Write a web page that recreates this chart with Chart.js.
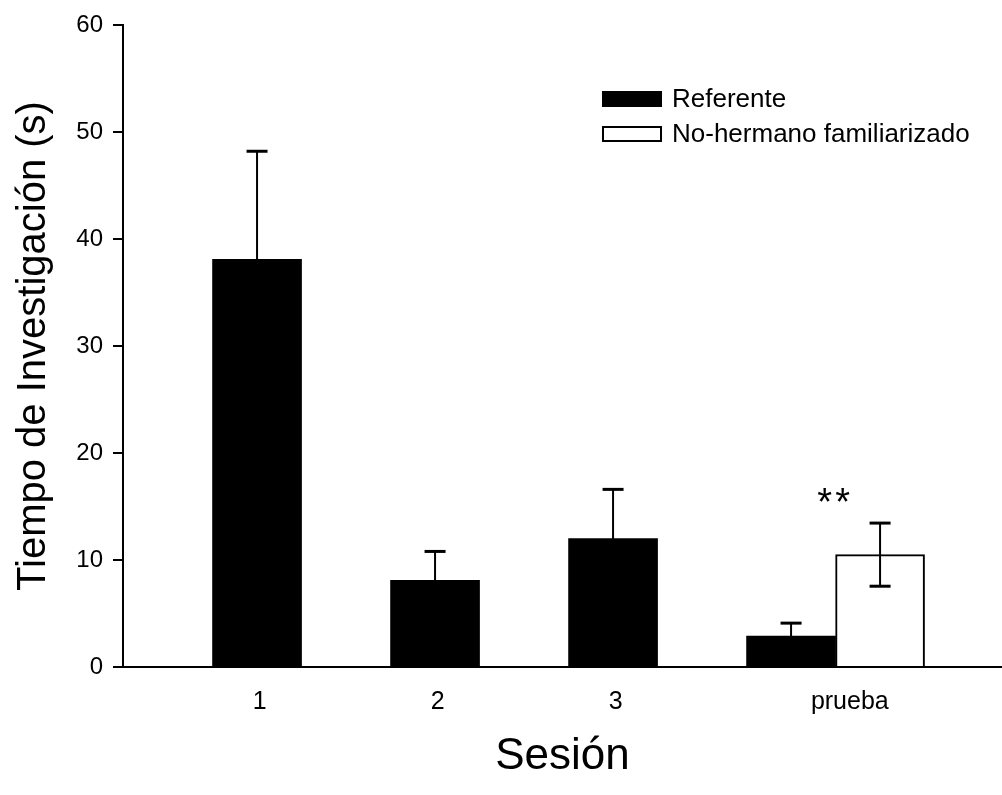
<!DOCTYPE html>
<html><head><meta charset="utf-8">
<script src="https://cdn.jsdelivr.net/npm/chart.js@4"></script>
<style>html,body{margin:0;padding:0;background:#fff}#wrap{width:1002px;height:795px}</style>
</head><body><div id="wrap"><canvas id="c" width="1002" height="795"></canvas></div>
<script>
// ---- data ----
const sessions = ['1', '2', '3', 'prueba'];
const seriesLabels = ['Referente', 'No-hermano familiarizado'];
const referente = [38.1, 8.1, 12.0, 2.9];
const referenteErr = [10.1, 2.7, 4.6, 1.2];
const noHermano = [null, null, null, 10.5];
const noHermanoErr = [null, null, null, 2.95];
const significance = ['', '', '', '**'];
const yTicks = [0, 10, 20, 30, 40, 50, 60];
const yTitle = 'Tiempo de Investigación (s)';
const xTitle = 'Sesión';

// ---- layout / style ----
const FONT = '"Liberation Sans", Arial, Helvetica, sans-serif';
const groupOffset = 0.5;           // second series sits half a slot to the right
const catPos = i => i + 1;          // numeric slot of each session
const groupCenter = i => noHermano[i] == null ? catPos(i) : catPos(i) + groupOffset / 2;
const labelPos = i => noHermano[i] == null ? catPos(i) + 0.015 : catPos(i) + groupOffset * 0.66;

function build(vals, errs, shift) {
  const out = [];
  vals.forEach((v, i) => { if (v != null) out.push({ x: catPos(i) + shift, y: v, err: errs[i] }); });
  return out;
}

const errorBars = {
  id: 'errorBars',
  afterDatasetsDraw(chart) {
    const { ctx } = chart;
    const ys = chart.scales.y, xs = chart.scales.x;
    const line = (a, b, c, d) => { ctx.beginPath(); ctx.moveTo(a, b); ctx.lineTo(c, d); ctx.stroke(); };
    chart.data.datasets.forEach((ds, di) => {
      const meta = chart.getDatasetMeta(di);
      meta.data.forEach((el, j) => {
        const p = ds.data[j];
        if (!p || p.err == null) return;
        const x = el.x;
        const yt = ys.getPixelForValue(p.y + p.err);
        const yb = ys.getPixelForValue(p.y - p.err);
        ctx.save();
        ctx.strokeStyle = '#000';
        ctx.lineWidth = 2;
        line(x, yt, x, yb);
        ctx.lineWidth = 3;
        line(x - 10.5, yt, x + 10.5, yt);
        line(x - 10.5, yb, x + 10.5, yb);
        ctx.restore();
      });
    });
    // significance markers above the group
    sessions.forEach((s, i) => {
      if (!significance[i]) return;
      const top = Math.max(referente[i] + (referenteErr[i] || 0), (noHermano[i] || 0) + (noHermanoErr[i] || 0));
      const x = xs.getPixelForValue(groupCenter(i)) - 2;
      const y = ys.getPixelForValue(top) - 30;
      const chars = significance[i].split('');
      const gap = 18;
      ctx.save();
      ctx.fillStyle = '#000';
      ctx.font = '38px ' + FONT;
      ctx.textAlign = 'center';
      ctx.textBaseline = 'alphabetic';
      chars.forEach((c, k) => {
        ctx.fillText(c, x + (k - (chars.length - 1) / 2) * gap, y + 22);
      });
      ctx.restore();
    });
  }
};

const insideLegend = {
  id: 'insideLegend',
  afterDraw(chart) {
    const { ctx } = chart;
    const bx = 602, bw = 60, bh = 16, rows = [91, 126], tx = 672;
    chart.data.datasets.forEach((ds, i) => {
      const y = rows[i];
      ctx.save();
      ctx.fillStyle = ds.backgroundColor;
      ctx.fillRect(bx, y, bw, bh);
      ctx.strokeStyle = '#000';
      ctx.lineWidth = 2;
      ctx.strokeRect(bx + 1, y + 1, bw - 2, bh - 2);
      ctx.fillStyle = '#000';
      ctx.font = '26px ' + FONT;
      ctx.textAlign = 'left';
      ctx.textBaseline = 'middle';
      ctx.fillText(ds.label, tx, y + bh / 2 + 1);
      ctx.restore();
    });
  }
};

new Chart(document.getElementById('c'), {
  type: 'bar',
  data: {
    datasets: [
      { label: seriesLabels[0], data: build(referente, referenteErr, 0),
        backgroundColor: '#000', borderColor: '#000', borderWidth: 0 },
      { label: seriesLabels[1], data: build(noHermano, noHermanoErr, groupOffset),
        backgroundColor: '#fff', borderColor: '#000', borderWidth: 2, borderSkipped: 'bottom' }
    ]
  },
  plugins: [errorBars, insideLegend],
  options: {
    responsive: false,
    animation: false,
    devicePixelRatio: 1,
    layout: { padding: { top: 25, right: 0, bottom: 0, left: 0 } },
    plugins: { legend: { display: false }, tooltip: { enabled: false } },
    datasets: { bar: { grouped: false, barThickness: 89 } },
    scales: {
      x: {
        type: 'linear', min: 0.247, max: 5.185, offset: false,
        afterBuildTicks: s => { s.ticks = sessions.map((_, i) => ({ value: labelPos(i) })); },
        ticks: { callback: (v, i) => sessions[i], font: { family: FONT, size: 25 }, color: '#000',
                 padding: 20, maxRotation: 0, autoSkip: false },
        grid: { display: false, drawTicks: false },
        border: { display: true, color: '#000', width: 2 },
        title: { display: true, text: xTitle, color: '#000', font: { family: FONT, size: 44 },
                 padding: { top: 0, bottom: 12 } },
        afterFit: s => { s.height = 128; }
      },
      y: {
        min: 0, max: 60,
        afterBuildTicks: s => { s.ticks = yTicks.map(v => ({ value: v })); },
        ticks: { font: { family: FONT, size: 24 }, color: '#000', padding: 10 },
        grid: { drawOnChartArea: false, drawTicks: true, tickLength: 10, color: '#000', lineWidth: 2 },
        border: { display: true, color: '#000', width: 2 },
        title: { display: true, text: yTitle, color: '#000', font: { family: FONT, size: 40 },
                 padding: { top: 10, bottom: 0 } },
        afterFit: s => { s.width = 123; }
      }
    }
  }
});
</script>
</body></html>
